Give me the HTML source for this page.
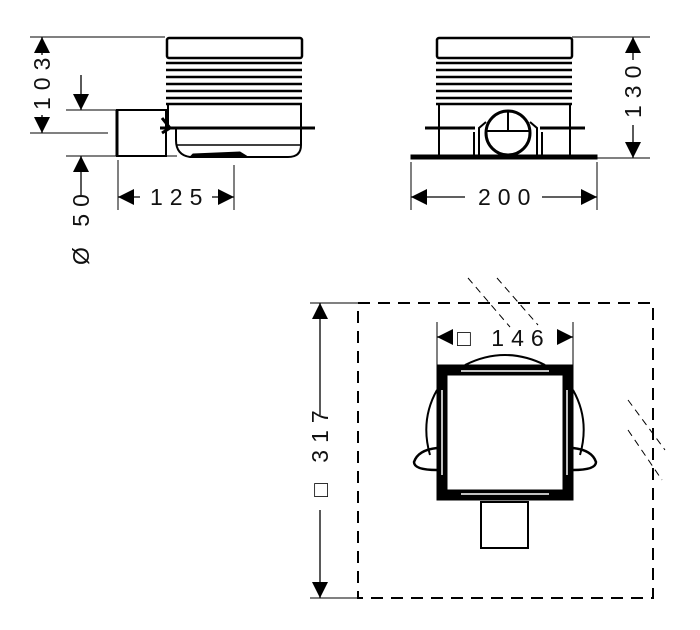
<!DOCTYPE html>
<html><head><style>body{margin:0;background:#fff}svg{display:block}text{font-family:"Liberation Sans",sans-serif;font-size:23px;fill:#111;letter-spacing:7px}</style></head><body>
<svg width="700" height="630" viewBox="0 0 700 630" xmlns="http://www.w3.org/2000/svg">
<defs><marker id="a" viewBox="0 0 10 10" refX="10" refY="5" markerWidth="16" markerHeight="16" markerUnits="userSpaceOnUse" orient="auto"><path d="M0,0L10,5L0,10z" fill="#000"/></marker></defs>
<g stroke="#000" fill="none">
<!-- left view -->
<rect x="167" y="38" width="135" height="20" rx="2" stroke-width="2.5"/>
<g stroke-width="2.5"><line x1="166" y1="63" x2="302" y2="63"/><line x1="166" y1="70" x2="302" y2="70"/><line x1="166" y1="77" x2="302" y2="77"/><line x1="166" y1="84" x2="302" y2="84"/><line x1="166" y1="91" x2="302" y2="91"/><line x1="166" y1="98" x2="302" y2="98"/><line x1="166" y1="104" x2="302" y2="104"/></g>
<path d="M168,104V128 M301,104V145 Q301,157 288,157H190 Q176,155 176,140V128" stroke-width="2"/>
<line x1="176" y1="145" x2="301" y2="145" stroke-width="1.5"/>
<path d="M193,154 L240,152 Q245,155 248,157H190z" fill="#000"/>
<line x1="160" y1="128" x2="315" y2="128" stroke-width="3"/>
<rect x="117" y="110" width="49" height="46" stroke-width="2"/>
<line x1="117" y1="110" x2="117" y2="156" stroke-width="3"/>
<path d="M162,118 L170,128 L162,133" stroke-width="3"/>
<g stroke-width="1">
<line x1="30" y1="37" x2="165" y2="37"/><line x1="30" y1="133" x2="108" y2="133"/>
<line x1="66" y1="110" x2="117" y2="110"/><line x1="66" y1="156" x2="177" y2="156"/>
<line x1="118" y1="160" x2="118" y2="210"/><line x1="234" y1="165" x2="234" y2="210"/>
</g>
<g stroke-width="1.3">
<line x1="42" y1="55" x2="42" y2="37" marker-end="url(#a)"/><line x1="42" y1="115" x2="42" y2="133" marker-end="url(#a)"/>
<line x1="81" y1="75" x2="81" y2="110" marker-end="url(#a)"/><line x1="81" y1="195" x2="81" y2="156" marker-end="url(#a)"/>
<line x1="140" y1="197" x2="118" y2="197" marker-end="url(#a)"/><line x1="212" y1="197" x2="234" y2="197" marker-end="url(#a)"/>
</g>
<!-- right view -->
<rect x="437" y="38" width="135" height="20" rx="2" stroke-width="2.5"/>
<g stroke-width="2.5"><line x1="436" y1="63" x2="572" y2="63"/><line x1="436" y1="70" x2="572" y2="70"/><line x1="436" y1="77" x2="572" y2="77"/><line x1="436" y1="84" x2="572" y2="84"/><line x1="436" y1="91" x2="572" y2="91"/><line x1="436" y1="98" x2="572" y2="98"/><line x1="436" y1="104" x2="572" y2="104"/></g>
<path d="M439,104V155 M570,104V155" stroke-width="2"/>
<rect x="411" y="155" width="186" height="4" fill="#000" stroke-width="1"/>
<line x1="425" y1="128" x2="475" y2="128" stroke-width="3"/><line x1="540" y1="128" x2="585" y2="128" stroke-width="3"/>
<circle cx="508" cy="133" r="22" stroke-width="3"/>
<line x1="508" y1="111" x2="508" y2="130" stroke-width="2"/><line x1="487" y1="131" x2="529" y2="131" stroke-width="2"/>
<path d="M479,155V128L486,122 M537,155V128L530,122 M474,155V132 M542,155V132" stroke-width="2"/>
<g stroke-width="1">
<line x1="572" y1="37" x2="650" y2="37"/><line x1="597" y1="158" x2="650" y2="158"/>
<line x1="411" y1="162" x2="411" y2="210"/><line x1="597" y1="162" x2="597" y2="210"/>
</g>
<g stroke-width="1.3">
<line x1="633" y1="60" x2="633" y2="37" marker-end="url(#a)"/><line x1="633" y1="125" x2="633" y2="158" marker-end="url(#a)"/>
<line x1="465" y1="197" x2="411" y2="197" marker-end="url(#a)"/><line x1="542" y1="197" x2="597" y2="197" marker-end="url(#a)"/>
</g>
<!-- bottom view -->
<rect x="358" y="303" width="295" height="295" stroke-width="2" stroke-dasharray="12,8"/>
<g stroke-width="1" stroke-dasharray="7,5">
<line x1="468" y1="278" x2="510" y2="327"/><line x1="497" y1="278" x2="538" y2="325"/>
<line x1="628" y1="400" x2="665" y2="450"/><line x1="628" y1="430" x2="662" y2="480"/>
</g>
<g stroke-width="1">
<line x1="310" y1="303" x2="358" y2="303"/><line x1="310" y1="598" x2="358" y2="598"/>
<line x1="437" y1="322" x2="437" y2="365"/><line x1="573" y1="322" x2="573" y2="365"/>
</g>
<g stroke-width="1.3">
<line x1="320" y1="415" x2="320" y2="303" marker-end="url(#a)"/><line x1="320" y1="510" x2="320" y2="598" marker-end="url(#a)"/>
<line x1="452" y1="337" x2="437" y2="337" marker-end="url(#a)"/><line x1="558" y1="337" x2="573" y2="337" marker-end="url(#a)"/>
</g>
<path d="M465,365 Q505,345 545,365" stroke-width="2"/>
<path d="M437,390 Q420,420 430,455 M573,390 Q590,420 580,455" stroke-width="2"/>
<path d="M437,448 Q418,450 414,462 Q414,470 437,470 M573,448 Q592,450 596,462 Q596,470 573,470" stroke-width="2.5"/>
<rect x="442" y="370" width="126" height="125" stroke-width="11"/>
<g stroke="#fff" stroke-width="1.5"><line x1="461" y1="371" x2="549" y2="371"/><line x1="461" y1="494" x2="549" y2="494"/><line x1="442" y1="390" x2="442" y2="475"/><line x1="567" y1="390" x2="567" y2="475"/></g>
<rect x="481" y="502" width="47" height="46" stroke-width="2"/>
</g>
<text x="0" y="0" transform="translate(50,110) rotate(-90)">103</text>
<text x="0" y="0" transform="translate(89,265) rotate(-90)">Ø 50</text>
<text x="150" y="205">125</text>
<text x="478" y="205">200</text>
<text x="0" y="0" transform="translate(641,118) rotate(-90)">130</text>
<text x="0" y="0" transform="translate(328,497) rotate(-90)">□ 317</text>
<text x="457" y="346">□ 146</text>
</svg>
</body></html>
